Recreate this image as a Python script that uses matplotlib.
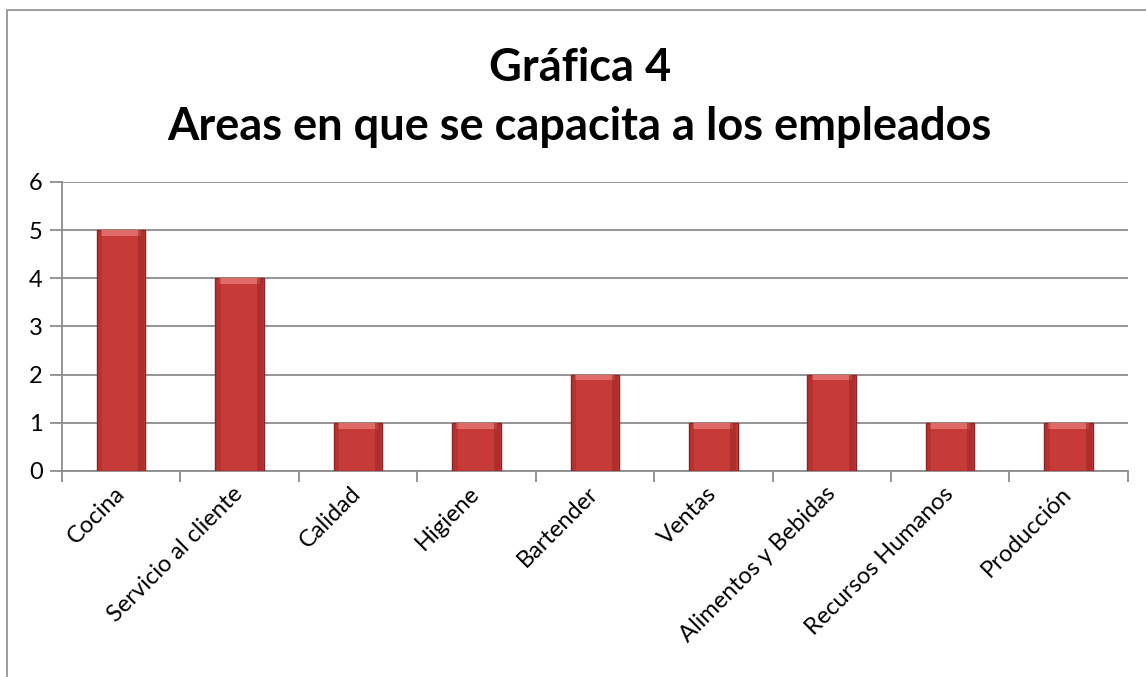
import numpy as np
import matplotlib
matplotlib.use('Agg')
import matplotlib.pyplot as plt
from matplotlib.patches import Rectangle

# datos de la grafica
areas = ['Cocina', 'Servicio al cliente', 'Calidad', 'Higiene', 'Bartender',
         'Ventas', 'Alimentos y Bebidas', 'Recursos Humanos', 'Producción']
empleados = [5, 4, 1, 1, 2, 1, 2, 1, 1]

plt.rcParams['font.family'] = ['Lato', 'DejaVu Sans']

fig = plt.figure(figsize=(11.46, 6.77), dpi=100)
ax = fig.add_axes([0.0541, 0.3043, 0.930, 0.4269])

# marco exterior del grafico
fig.patches.append(Rectangle((7 / 1146, -0.1), 1.2, 1.1 - 10 / 677, transform=fig.transFigure,
                             fill=False, edgecolor='#8c8c8c', linewidth=1.2))

x = np.arange(len(areas))
ax.bar(x, empleados, width=0.41, color='#c63a38', edgecolor='#8e2222', linewidth=1.0, zorder=3)
# brillo en la parte superior de cada barra
ax.bar(x, [0.12] * len(empleados), bottom=np.array(empleados) - 0.12, width=0.34,
       color='#e06a66', linewidth=0, zorder=4)
# sombras laterales
ax.bar(x + 0.17, empleados, width=0.05, color='#9c2626', linewidth=0, zorder=4, alpha=0.6)
ax.bar(x - 0.18, empleados, width=0.04, color='#9c2626', linewidth=0, zorder=4, alpha=0.4)

ax.set_xlim(-0.5, len(areas) - 0.5)
ax.set_ylim(0, 6)
ax.set_yticks(range(0, 7))
ax.yaxis.grid(True, color='#8c8c8c', linewidth=1.3, zorder=0)
ax.set_axisbelow(True)

ax.set_xticks(np.arange(len(areas) + 1) - 0.5, minor=False)
ax.set_xticklabels([])
ax.set_xticks(x, minor=True)
ax.set_xticklabels(areas, minor=True, rotation=45, ha='right', va='center',
                   rotation_mode='anchor', fontsize=17)
ax.tick_params(axis='x', which='major', length=8, color='#8c8c8c', width=1.3)
ax.tick_params(axis='x', which='minor', length=0, pad=14)
ax.tick_params(axis='y', length=9, color='#8c8c8c', width=1.3, labelsize=17, pad=5)

for s in ['top', 'right']:
    ax.spines[s].set_visible(False)
for s in ['left', 'bottom']:
    ax.spines[s].set_color('#8c8c8c')
    ax.spines[s].set_linewidth(1.3)

fig.text(0.506, 0.90, 'Gráfica 4', ha='center', va='center', fontsize=32.5, fontweight='bold')
fig.text(0.506, 0.812, 'Areas en que se capacita a los empleados', ha='center', va='center',
         fontsize=32.5, fontweight='bold')

fig.savefig('out.png', dpi=100)
